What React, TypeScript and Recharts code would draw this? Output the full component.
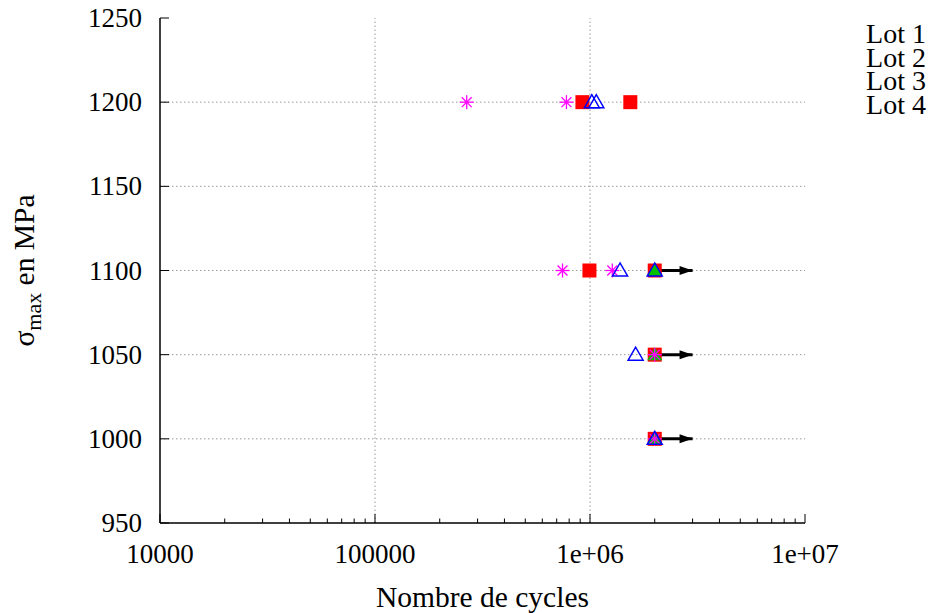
import React from 'react';
import { ScatterChart, Scatter, XAxis, YAxis, ReferenceLine } from 'recharts';

// ---- data ----
const lotNames = ['Lot 1', 'Lot 2', 'Lot 3', 'Lot 4'];

const lot1X = [922000, 1540000, 994000, 2000000, 2000000, 2000000];
const lot1Y = [1200, 1200, 1100, 1100, 1050, 1000];

const lot2X = [2000000, 2000000, 2000000];
const lot2Y = [1100, 1050, 1000];

const lot3X = [1020000, 1070000, 1380000, 2000000, 1630000, 2000000];
const lot3Y = [1200, 1200, 1100, 1100, 1050, 1000];

const lot4X = [267000, 777000, 745000, 1270000, 2000000, 2000000];
const lot4Y = [1200, 1200, 1100, 1100, 1050, 1000];

// run-outs (non-broken specimens): arrow from start to end cycles
const runoutY = [1100, 1050, 1000];
const runoutFrom = 2000000;
const runoutTo = 3000000;

const xMajorTicks = [10000, 100000, 1000000, 10000000];
const xMinorTicks = [
  20000, 30000, 40000, 50000, 60000, 70000, 80000, 90000,
  200000, 300000, 400000, 500000, 600000, 700000, 800000, 900000,
  2000000, 3000000, 4000000, 5000000, 6000000, 7000000, 8000000, 9000000,
];
const xTickLabels: Record<number, string> = {
  10000: '10000',
  100000: '100000',
  1000000: '1e+06',
  10000000: '1e+07',
};
const yTicks = [950, 1000, 1050, 1100, 1150, 1200, 1250];
const yGrid = [1000, 1050, 1100, 1150, 1200];
const xGrid = [100000, 1000000];

const xLabel = 'Nombre de cycles';

const zip = (xs: number[], ys: number[]) => xs.map((x, i) => ({ x, y: ys[i] }));

const FONT = '"Liberation Serif", "Times New Roman", serif';
const FS = 27;
const LABEL_FS = 29.5;

const allXTicks = [...xMajorTicks, ...xMinorTicks].sort((a, b) => a - b);
const majorSet = new Set(xMajorTicks);

const BottomTick = (p: any) => {
  const { x, y, payload } = p;
  const major = majorSet.has(payload.value);
  return (
    <g>
      <line x1={x} x2={x} y1={y} y2={y - (major ? 9 : 4.5)} stroke="#000" strokeWidth={1} />
      {major && (
        <text x={x} y={y + 40} textAnchor="middle" fontFamily={FONT} fontSize={FS} fill="#000">
          {xTickLabels[payload.value]}
        </text>
      )}
    </g>
  );
};

const TopTick = (p: any) => {
  const { x, y, payload } = p;
  const major = majorSet.has(payload.value);
  return <line x1={x} x2={x} y1={y} y2={y + (major ? 9 : 4.5)} stroke="#000" strokeWidth={1} />;
};

const LeftTick = (p: any) => {
  const { x, y, payload } = p;
  return (
    <g>
      <line x1={x} x2={x + 9} y1={y} y2={y} stroke="#000" strokeWidth={1} />
      <text x={x - 18} y={y + 9} textAnchor="end" fontFamily={FONT} fontSize={FS} fill="#000">
        {payload.value}
      </text>
    </g>
  );
};

const RightTick = (p: any) => {
  const { x, y } = p;
  return <line x1={x} x2={x - 9} y1={y} y2={y} stroke="#000" strokeWidth={1} />;
};

const Square = (p: any) => {
  const { cx, cy } = p;
  return <rect x={cx - 7} y={cy - 7} width={14} height={14} fill="#ff0000" />;
};

const FilledTriangle = (p: any) => {
  const { cx, cy } = p;
  return <polygon points={`${cx},${cy - 7.5} ${cx - 7.5},${cy + 5.5} ${cx + 7.5},${cy + 5.5}`} fill="#00c000" />;
};

const OpenTriangle = (p: any) => {
  const { cx, cy } = p;
  return (
    <polygon
      points={`${cx},${cy - 7.5} ${cx - 7.5},${cy + 5.5} ${cx + 7.5},${cy + 5.5}`}
      fill="none"
      stroke="#0000ff"
      strokeWidth={1.5}
    />
  );
};

const Star = (p: any) => {
  const { cx, cy } = p;
  const r = 7;
  const d = r * 0.707;
  return (
    <g stroke="#ff00ff" strokeWidth={1.3}>
      <line x1={cx - r} x2={cx + r} y1={cy} y2={cy} />
      <line x1={cx} x2={cx} y1={cy - r} y2={cy + r} />
      <line x1={cx - d} x2={cx + d} y1={cy - d} y2={cy + d} />
      <line x1={cx - d} x2={cx + d} y1={cy + d} y2={cy - d} />
    </g>
  );
};

const ArrowHead = (p: any) => {
  const { cx, cy, payload } = p;
  if (!payload || !payload.head) return <g />;
  return <polygon points={`${cx},${cy} ${cx - 13},${cy - 4.5} ${cx - 13},${cy + 4.5}`} fill="#000" />;
};

const XLabelContent = (p: any) => {
  const vb = p.viewBox || {};
  return (
    <text x={vb.x + vb.width / 2} y={vb.y + 84} textAnchor="middle" fontFamily={FONT} fontSize={LABEL_FS} fill="#000">
      {xLabel}
    </text>
  );
};

const YLabelContent = (p: any) => {
  const vb = p.viewBox || {};
  const cx = 34;
  const cy = vb.y + vb.height / 2;
  return (
    <text
      x={cx}
      y={cy}
      transform={`rotate(-90, ${cx}, ${cy})`}
      textAnchor="middle"
      fontFamily={FONT}
      fontSize={LABEL_FS}
      fill="#000"
    >
      σ
      <tspan fontSize={22} dy={7}>max</tspan>
      <tspan dy={-7}> en MPa</tspan>
    </text>
  );
};

export default function App() {
  return (
    <div style={{ position: 'absolute', left: 0, top: 0, width: 929, height: 613, background: '#fff' }}>
      <ScatterChart width={929} height={613} margin={{ top: 18, right: 124, bottom: 0, left: 0 }}>
        <XAxis
          dataKey="x"
          type="number"
          scale="log"
          domain={[10000, 10000000]}
          ticks={allXTicks}
          interval={0}
          allowDataOverflow
          height={90}
          tickSize={0}
          tickMargin={0}
          tickLine={false}
          tick={<BottomTick />}
          axisLine={{ stroke: '#000', strokeWidth: 1.5 }}
          label={<XLabelContent />}
        />
        <XAxis
          xAxisId="top"
          orientation="top"
          dataKey="x"
          type="number"
          scale="log"
          domain={[10000, 10000000]}
          ticks={allXTicks}
          interval={0}
          allowDataOverflow
          height={0}
          tickSize={0}
          tickMargin={0}
          tickLine={false}
          tick={<TopTick />}
          axisLine={{ stroke: '#000', strokeWidth: 1.5 }}
        />
        <YAxis
          dataKey="y"
          type="number"
          domain={[950, 1250]}
          ticks={yTicks}
          interval={0}
          allowDataOverflow
          width={160}
          tickSize={0}
          tickMargin={0}
          tickLine={false}
          tick={<LeftTick />}
          axisLine={{ stroke: '#000', strokeWidth: 1.5 }}
          label={<YLabelContent />}
        />
        <YAxis
          yAxisId="right"
          orientation="right"
          dataKey="y"
          type="number"
          domain={[950, 1250]}
          ticks={yTicks}
          interval={0}
          allowDataOverflow
          width={0}
          tickSize={0}
          tickMargin={0}
          tickLine={false}
          tick={<RightTick />}
          axisLine={{ stroke: '#000', strokeWidth: 1.5 }}
        />
        {yGrid.map((v) => (
          <ReferenceLine key={'gy' + v} y={v} stroke="#999" strokeWidth={1} strokeDasharray="1.5 2.5" />
        ))}
        {xGrid.map((v) => (
          <ReferenceLine key={'gx' + v} x={v} stroke="#999" strokeWidth={1} strokeDasharray="1.5 2.5" />
        ))}
        {runoutY.map((y) => (
          <Scatter
            key={'ro' + y}
            data={[
              { x: runoutFrom, y, head: false },
              { x: runoutTo, y, head: true },
            ]}
            line={{ stroke: '#000', strokeWidth: 3 }}
            shape={<ArrowHead />}
            isAnimationActive={false}
          />
        ))}
        <Scatter name={lotNames[0]} data={zip(lot1X, lot1Y)} shape={<Square />} isAnimationActive={false} />
        <Scatter name={lotNames[1]} data={zip(lot2X, lot2Y)} shape={<FilledTriangle />} isAnimationActive={false} />
        <Scatter name={lotNames[3]} data={zip(lot4X, lot4Y)} shape={<Star />} isAnimationActive={false} />
        <Scatter name={lotNames[2]} data={zip(lot3X, lot3Y)} shape={<OpenTriangle />} isAnimationActive={false} />
      </ScatterChart>
      <div
        style={{
          position: 'absolute',
          right: 3,
          top: 22,
          fontFamily: FONT,
          fontSize: 28,
          lineHeight: '23.5px',
          textAlign: 'right',
          color: '#000',
        }}
      >
        {lotNames.map((n) => (
          <div key={n}>{n}</div>
        ))}
      </div>
    </div>
  );
}
